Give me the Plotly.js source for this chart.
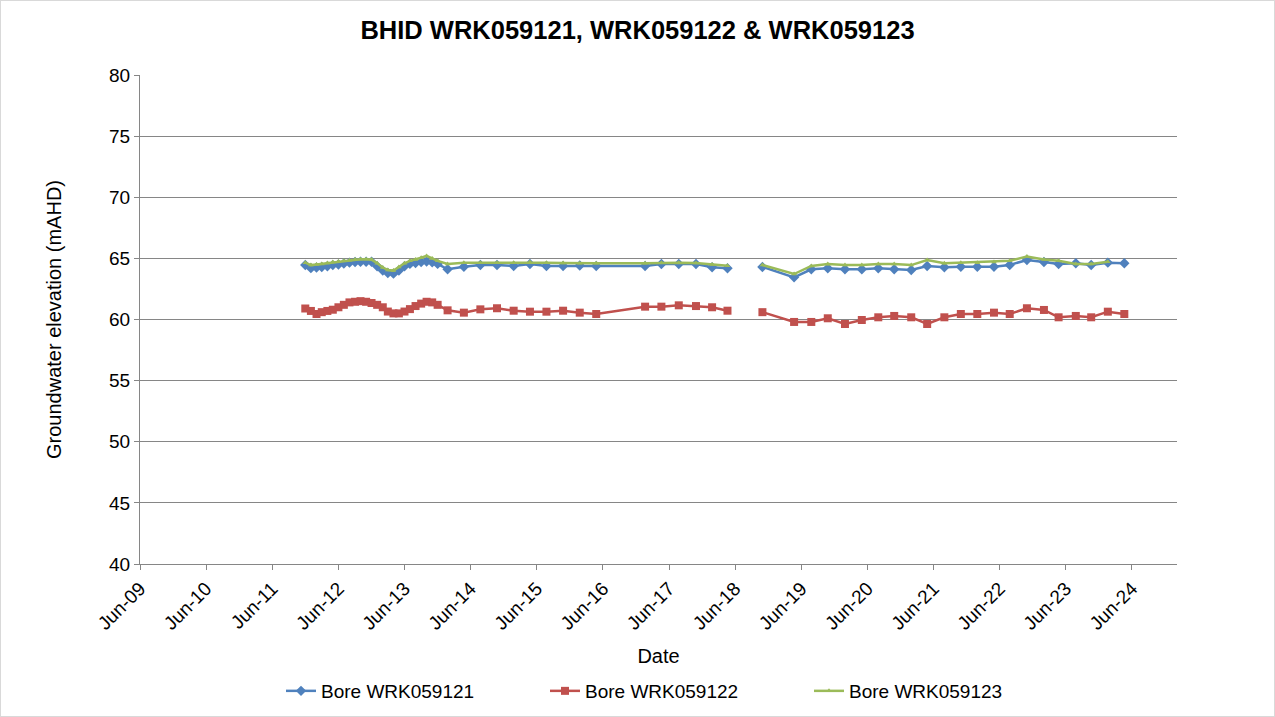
<!DOCTYPE html>
<html>
<head>
<meta charset="utf-8">
<script src="https://cdn.plot.ly/plotly-3.0.1.min.js"></script>
<style>
  html, body { margin: 0; padding: 0; background: #fff; }
  #chart { width: 1275px; height: 717px; box-sizing: border-box; border: 1px solid #d9d9d9; }
</style>
</head>
<body>
<div id="chart"></div>
<script>
// ---- Data ----
const monthlyDates = [
  '2011-12-01','2012-01-01','2012-02-01','2012-03-01','2012-04-01','2012-05-01','2012-06-01',
  '2012-07-01','2012-08-01','2012-09-01','2012-10-01','2012-11-01','2012-12-01',
  '2013-01-01','2013-02-01','2013-03-01','2013-04-01','2013-05-01','2013-06-01',
  '2013-07-01','2013-08-01','2013-09-01','2013-10-01','2013-11-01','2013-12-01'
];
const quarterlyDates = [
  '2014-01-25','2014-04-25','2014-07-25','2014-10-25',
  '2015-01-25','2015-04-25','2015-07-25','2015-10-25',
  '2016-01-25','2016-04-25',
  '2017-01-20','2017-04-20','2017-07-25','2017-10-28',
  '2018-01-25','2018-04-20','2018-07-25','2018-10-30',
  '2019-04-23','2019-07-27','2019-10-26',
  '2020-01-29','2020-05-01','2020-07-31','2020-10-27',
  '2021-01-29','2021-04-27','2021-07-31','2021-10-30',
  '2022-01-29','2022-05-01','2022-07-27','2022-10-30',
  '2023-02-01','2023-04-23','2023-07-27','2023-10-20',
  '2024-01-20','2024-04-20'
];
const dates = monthlyDates.concat(quarterlyDates);

const bore121 = [
  64.46, 64.20, 64.25, 64.30, 64.35, 64.45, 64.50, 64.58, 64.65, 64.70, 64.72, 64.73, 64.72,
  64.35, 64.00, 63.80, 63.75, 64.00, 64.35, 64.55, 64.62, 64.70, 64.75, 64.68, 64.55,
  64.11, 64.32, 64.46, 64.46,
  64.38, 64.54, 64.38, 64.38,
  64.42, 64.38,
  64.38, 64.54, 64.54, 64.54,
  64.27, 64.19, null, 64.30,
  63.45, 64.11, 64.19,
  64.11, 64.11, 64.19, 64.11,
  64.05, 64.38, 64.27, 64.32,
  64.32, 64.32, 64.46, 64.87,
  64.70, 64.54, 64.60, 64.46,
  64.65, 64.60
];
const bore122 = [
  60.90, 60.70, 60.45, 60.60, 60.70, 60.80, 61.00, 61.20, 61.40, 61.45, 61.50, 61.45, 61.35,
  61.20, 61.00, 60.65, 60.50, 60.50, 60.65, 60.85, 61.10, 61.30, 61.45, 61.40, 61.20,
  60.75, 60.56, 60.83, 60.92,
  60.72, 60.64, 60.64, 60.72,
  60.56, 60.45,
  61.05, 61.05, 61.16, 61.10,
  61.00, 60.72, null, 60.60,
  59.80, 59.80, 60.10,
  59.63, 59.96, 60.18, 60.29,
  60.18, 59.63, 60.18, 60.45,
  60.45, 60.56, 60.45, 60.92,
  60.78, 60.18, 60.29, 60.18,
  60.64, 60.45
];
const bore123 = [
  64.65, 64.45, 64.50, 64.55, 64.62, 64.70, 64.75, 64.80, 64.85, 64.90, 64.92, 64.92, 64.90,
  64.60, 64.25, 64.05, 64.00, 64.30, 64.60, 64.80, 64.90, 65.05, 65.20, 65.00, 64.80,
  64.54, 64.65, 64.65, 64.65,
  64.65, 64.70, 64.65, 64.62,
  64.60, 64.60,
  64.60, 64.65, 64.65, 64.62,
  64.50, 64.40, null, 64.46,
  63.72, 64.38, 64.54,
  64.46, 64.46, 64.54, 64.54,
  64.45, 64.87, 64.60, 64.65,
  64.65, 64.70, 64.81, 65.15,
  64.90, 64.81, 64.54, 64.54,
  64.73, null
];

const seriesNames = ['Bore WRK059121', 'Bore WRK059122', 'Bore WRK059123'];
const yTickValues = [40, 45, 50, 55, 60, 65, 70, 75, 80];

const FONT = 'Arial, "Liberation Sans", sans-serif';

const traces = [
  {
    x: dates, y: bore121, name: seriesNames[0], type: 'scatter', mode: 'lines+markers',
    connectgaps: false,
    line: { color: '#4F81BD', width: 2.5 },
    marker: { symbol: 'diamond', size: 8, color: '#4F81BD' }
  },
  {
    x: dates, y: bore122, name: seriesNames[1], type: 'scatter', mode: 'lines+markers',
    connectgaps: false,
    line: { color: '#C0504D', width: 2.5 },
    marker: { symbol: 'square', size: 8, color: '#C0504D' }
  },
  {
    x: dates, y: bore123, name: seriesNames[2], type: 'scatter', mode: 'lines+markers',
    connectgaps: false,
    line: { color: '#9BBB59', width: 2.5 },
    marker: { symbol: 'triangle-up', size: 5, color: '#9BBB59' }
  }
];

const layout = {
  width: 1273, height: 715,
  margin: { l: 139, r: 97, t: 74, b: 152 },
  paper_bgcolor: '#ffffff',
  plot_bgcolor: '#ffffff',
  font: { family: FONT, color: '#000000', size: 19 },
  title: {
    text: '<b>BHID WRK059121, WRK059122 & WRK059123</b>',
    font: { family: FONT, size: 25.5, color: '#000000' },
    x: 0.5, xanchor: 'center', xref: 'container',
    y: 1 - 29 / 715, yanchor: 'middle', yref: 'container'
  },
  xaxis: {
    type: 'date',
    automargin: false,
    range: ['2009-06-01', '2025-02-05'],
    tick0: '2009-06-01',
    dtick: 'M12',
    tickformat: '%b-%y',
    tickangle: -45,
    tickfont: { family: FONT, size: 19, color: '#000000' },
    ticks: 'outside', ticklen: 5, tickcolor: '#868686',
    showline: true, linecolor: '#868686', linewidth: 1,
    showgrid: false, zeroline: false,
    title: { text: 'Date', font: { family: FONT, size: 20, color: '#000000' }, standoff: 16 }
  },
  yaxis: {
    automargin: false,
    range: [40, 80],
    tickvals: yTickValues,
    ticktext: yTickValues.map(String),
    tickfont: { family: FONT, size: 19, color: '#000000' },
    ticks: 'outside', ticklen: 5, tickcolor: '#868686',
    showline: true, linecolor: '#868686', linewidth: 1,
    showgrid: true, gridcolor: '#868686', gridwidth: 1,
    zeroline: false,
    title: { text: 'Groundwater elevation (mAHD)', font: { family: FONT, size: 20, color: '#000000' }, standoff: 42 }
  },
  showlegend: true,
  legend: {
    orientation: 'h',
    xref: 'paper',
    x: (280 - 139) / 1037, xanchor: 'left',
    yref: 'container',
    y: (715 - 690) / 715, yanchor: 'middle',
    font: { family: FONT, size: 19, color: '#000000' },
    entrywidth: 219, entrywidthmode: 'pixels',
    itemwidth: 30,
    bgcolor: 'rgba(0,0,0,0)'
  }
};

Plotly.newPlot('chart', traces, layout, { displayModeBar: false, staticPlot: true });
</script>
</body>
</html>
